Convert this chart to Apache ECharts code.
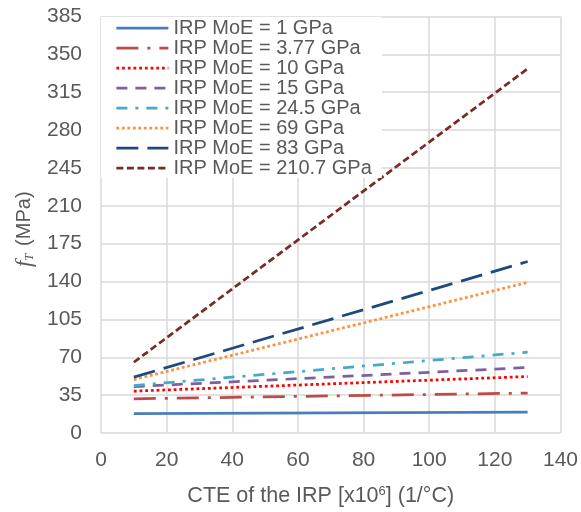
<!DOCTYPE html>
<html lang="en">
<head>
    <meta charset="UTF-8">
    <title>fT vs CTE</title>
    <script src="https://cdn.jsdelivr.net/npm/echarts@6/dist/echarts.min.js"></script>
    <style>
        html, body { margin: 0; padding: 0; background: #fff; }
        #main { width: 581px; height: 512px; }
    </style>
</head>
<body>
    <div id="main"></div>
    <script>
        // CTE of the IRP (x10^6, 1/°C) at the two ends of each line
        const cte = [10, 130]

        const names = [
            'IRP MoE = 1 GPa',
            'IRP MoE = 3.77 GPa',
            'IRP MoE = 10 GPa',
            'IRP MoE = 15 GPa',
            'IRP MoE = 24.5 GPa',
            'IRP MoE = 69 GPa',
            'IRP MoE = 83 GPa',
            'IRP MoE = 210.7 GPa'
        ]

        // fT (MPa)
        const moe1 = [17.8, 19.4]
        const moe377 = [31.6, 36.9]
        const moe10 = [38.7, 52.2]
        const moe15 = [42.9, 60.5]
        const moe245 = [43.9, 74.7]
        const moe69 = [49.4, 139.2]
        const moe83 = [51.6, 158.5]
        const moe2107 = [65.4, 336.7]

        const values = [moe1, moe377, moe10, moe15, moe245, moe69, moe83, moe2107]

        const colors = ['#4A7EBB', '#BE4B48', '#FF0000', '#7D60A0', '#46AAC5', '#F69240', '#1F497D', '#772C2A']
        const dashes = [
            'solid',
            [22, 9, 3, 9],
            [2.8, 2.9],
            [11, 8],
            [11, 8, 3, 8],
            [2.8, 2.7],
            [22, 9],
            [7, 3.5]
        ]

        const font = "'Liberation Sans', Arial, sans-serif"
        const textColor = '#595959'
        const gridColor = '#D9D9D9'

        let chart = echarts.init(document.getElementById('main'))

        let series = names.map((n, i) => ({
            name: n,
            type: 'line',
            data: cte.map((x, j) => [x, values[i][j]]),
            symbol: 'none',
            showSymbol: false,
            lineStyle: {
                color: colors[i],
                width: 2.75,
                type: dashes[i]
            },
            itemStyle: { color: colors[i] },
            silent: true,
            animation: false
        }))

        chart.setOption({
            animation: false,
            textStyle: { fontFamily: font },
            grid: {
                left: 101,
                right: 18,
                top: 16.5,
                bottom: 78,
                containLabel: false
            },
            legend: {
                orient: 'vertical',
                left: 101,
                top: 17,
                backgroundColor: '#fff',
                padding: [1, 10, 0, 14],
                itemWidth: 52,
                itemHeight: 14,
                itemGap: 0,
                itemStyle: { opacity: 0 }, // hide the little circle, keep the line
                lineStyle: { width: 2.75 },
                textStyle: {
                    fontFamily: font,
                    fontSize: 20,
                    lineHeight: 19.8,
                    color: textColor
                },
                data: names
            },
            xAxis: {
                type: 'value',
                min: 0,
                max: 140,
                interval: 20,
                name: 'CTE of the IRP [x10{sup|6}] (1/°C)',
                nameLocation: 'middle',
                nameGap: 52,
                nameTextStyle: {
                    fontFamily: font,
                    fontSize: 21.5,
                    color: textColor,
                    padding: [0, 20, 0, 0],
                    rich: {
                        sup: {
                            fontFamily: font,
                            fontSize: 13,
                            color: textColor,
                            verticalAlign: 'top',
                            padding: [0, 0, 8, 0]
                        }
                    }
                },
                axisLine: { show: false },
                axisTick: { show: false },
                axisLabel: {
                    fontFamily: font,
                    fontSize: 21,
                    color: textColor,
                    margin: 17
                },
                splitLine: {
                    show: true,
                    lineStyle: { color: gridColor, width: 1.5 }
                }
            },
            yAxis: {
                type: 'value',
                min: 0,
                max: 385,
                interval: 35,
                name: '{f|f}{t|T} (MPa)',
                nameLocation: 'middle',
                nameGap: 62,
                nameTextStyle: {
                    fontFamily: font,
                    fontSize: 20,
                    color: textColor,
                    padding: [0, 9, 0, 0],
                    rich: {
                        f: {
                            fontFamily: "'Liberation Serif', 'DejaVu Serif', serif",
                            fontStyle: 'italic',
                            fontSize: 23,
                            color: textColor
                        },
                        t: {
                            fontFamily: "'Liberation Serif', 'DejaVu Serif', serif",
                            fontStyle: 'italic',
                            fontSize: 13,
                            color: textColor,
                            verticalAlign: 'bottom',
                            padding: [6, 2, 0, 0]
                        }
                    }
                },
                axisLine: { show: false },
                axisTick: { show: false },
                axisLabel: {
                    fontFamily: font,
                    fontSize: 21,
                    color: textColor,
                    margin: 19
                },
                splitLine: {
                    show: true,
                    lineStyle: { color: gridColor, width: 1.5 }
                }
            },
            series: series
        })
    </script>
</body>
</html>
